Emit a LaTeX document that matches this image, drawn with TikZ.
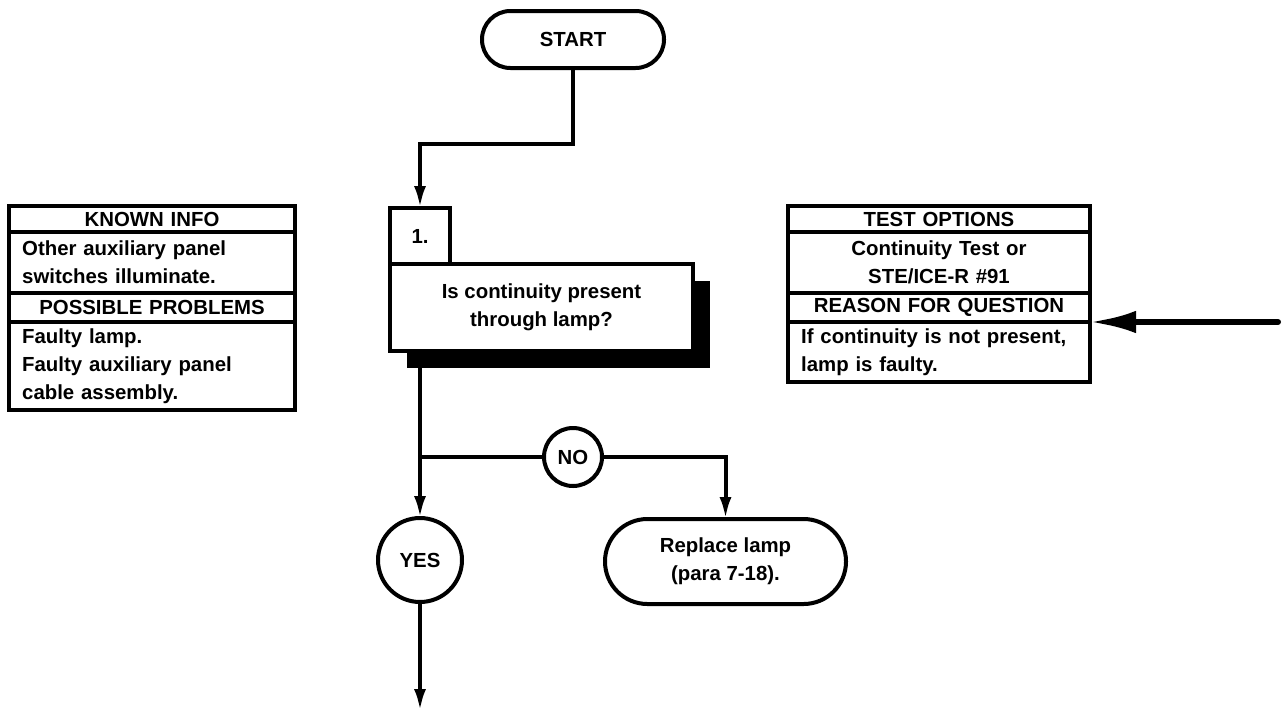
\documentclass[tikz,border=0pt]{standalone}
\usepackage{fontspec}
\setmainfont{Liberation Sans}
\usetikzlibrary{positioning,arrows.meta,shadows}

\begin{document}
\begin{tikzpicture}[
  every node/.style={font=\bfseries\fontsize{14.5}{20}\selectfont, outer sep=0pt},
  line width=0.1cm,
  term/.style={rectangle, rounded corners=0.71cm, draw, fill=white, minimum width=4.55cm,
               minimum height=1.425cm, align=center},
  qbox/.style={rectangle, draw, fill=white, minimum width=7.575cm, minimum height=2.175cm,
               align=center, drop shadow={shadow xshift=0.42cm, shadow yshift=-0.42cm,
               fill=black, opacity=1}},
  numbox/.style={rectangle, draw, fill=white, minimum width=1.5cm, minimum height=1.4cm},
  circ/.style={circle, draw, fill=white, inner sep=0pt},
  head/.style={rectangle, draw, inner xsep=0.33cm, inner ysep=0pt, align=center},
  cell/.style={rectangle, draw, inner xsep=0.33cm, inner ysep=0pt, align=left},
  lcol/.style={text width=6.49cm},
  rcol/.style={text width=6.89cm},
  arr/.style={-{Latex[length=0.55cm,width=0.3cm]}},
  bigarr/.style={-{Latex[length=1.15cm,width=0.56cm]}, line width=0.15cm, line cap=round}
]
\useasboundingbox (0,0) rectangle (32.1,-17.775);

% flow
\node[term]                                   (start) at (14.325,-0.9875) {START};
\node[qbox]                                   (quest) at (13.5375,-7.6875) {Is continuity present\\through lamp?};
\node[numbox, anchor=south west]              (n1)    at (quest.north west) {1.};
\node[circ, minimum size=1.45cm]              (no)    at (14.325,-11.425) {NO};
\node[circ, minimum size=2.1cm]               (yes)   at (10.5,-14) {YES};
\node[term, minimum width=6.025cm, minimum height=2.125cm, rounded corners=1.06cm]
                                              (repl)  at (18.1375,-14.0375) {Replace lamp\\(para 7-18).};

% known info
\node[head, lcol, minimum height=0.65cm, anchor=north west] (known) at (0.225,-5.15) {KNOWN INFO};
\node[cell, lcol, minimum height=1.525cm, below=0pt of known] (knowntxt) {Other auxiliary panel\\switches illuminate.};
\node[head, lcol, minimum height=0.725cm, below=0pt of knowntxt] (probs) {POSSIBLE PROBLEMS};
\node[cell, lcol, minimum height=2.2cm, below=0pt of probs] (probstxt) {Faulty lamp.\\Faulty auxiliary panel\\cable assembly.};

% test options
\node[head, rcol, minimum height=0.65cm, anchor=north west] (tests) at (19.7,-5.15) {TEST OPTIONS};
\node[head, rcol, minimum height=1.525cm, below=0pt of tests] (teststxt) {Continuity Test or\\STE/ICE-R \#91};
\node[head, rcol, minimum height=0.725cm, below=0pt of teststxt] (reason) {REASON FOR QUESTION};
\node[cell, rcol, minimum height=1.5cm, below=0pt of reason] (reasontxt) {If continuity is not present,\\lamp is faulty.};

\coordinate (split) at (yes.north |- no.west);
\coordinate (out)   at (yes.south |- 0,-17.775);
\coordinate (feed)  at (31.95,0 |- reasontxt.north east);

\draw[arr] (start.south) -- ++(0,-1.9) -| (n1.north);
\draw[arr] (quest.south -| yes.north) -- (yes.north);
\draw      (split) -- (no.west);
\draw[arr] (no.east) -| (repl.north);
\draw[arr] (yes.south) -- (out);
\draw[bigarr] (feed) -- (reasontxt.north east);

\end{tikzpicture}
\end{document}
